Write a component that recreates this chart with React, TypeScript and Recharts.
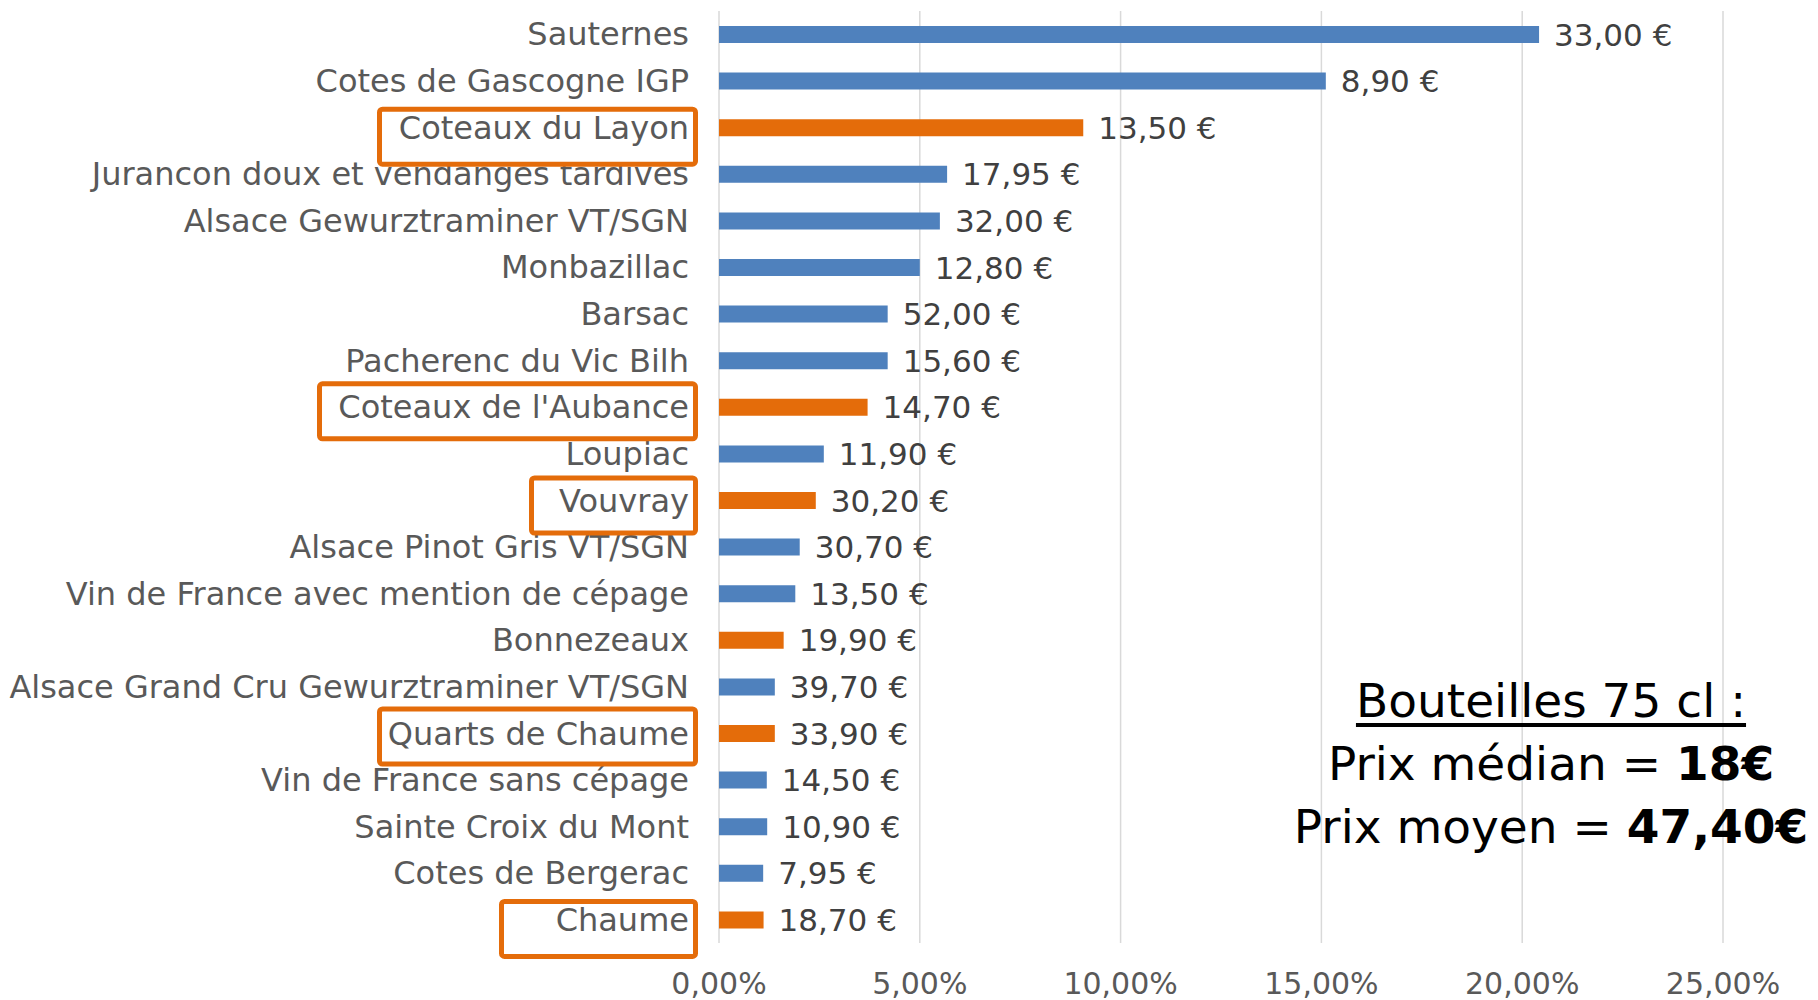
import React from 'react';
import { BarChart, Bar, XAxis, YAxis, CartesianGrid, Cell, LabelList } from 'recharts';

const categories = [
  'Sauternes',
  'Cotes de Gascogne IGP',
  'Coteaux du Layon',
  'Jurancon doux et vendanges tardives',
  'Alsace Gewurztraminer VT/SGN',
  'Monbazillac',
  'Barsac',
  'Pacherenc du Vic Bilh',
  "Coteaux de l'Aubance",
  'Loupiac',
  'Vouvray',
  'Alsace Pinot Gris VT/SGN',
  'Vin de France avec mention de cépage',
  'Bonnezeaux',
  'Alsace Grand Cru Gewurztraminer VT/SGN',
  'Quarts de Chaume',
  'Vin de France sans cépage',
  'Sainte Croix du Mont',
  'Cotes de Bergerac',
  'Chaume',
];

const shares = [
  0.2042, 0.1511, 0.0907, 0.0568, 0.055, 0.05, 0.042, 0.042, 0.037, 0.0261,
  0.0241, 0.0201, 0.019, 0.0161, 0.0139, 0.0139, 0.0119, 0.012, 0.011, 0.0111,
];

const priceLabels = [
  '33,00 €', '8,90 €', '13,50 €', '17,95 €', '32,00 €', '12,80 €', '52,00 €',
  '15,60 €', '14,70 €', '11,90 €', '30,20 €', '30,70 €', '13,50 €', '19,90 €',
  '39,70 €', '33,90 €', '14,50 €', '10,90 €', '7,95 €', '18,70 €',
];

const orangeCategories = [
  'Coteaux du Layon',
  "Coteaux de l'Aubance",
  'Vouvray',
  'Bonnezeaux',
  'Quarts de Chaume',
  'Chaume',
];

const boxedCategories = [
  'Coteaux du Layon',
  "Coteaux de l'Aubance",
  'Vouvray',
  'Quarts de Chaume',
  'Chaume',
];

const xTicks = [0, 0.05, 0.1, 0.15, 0.2, 0.25];

// ---- styles ----
const BLUE = '#4F81BD';
const ORANGE = '#E46C0A';
const FONT = '"DejaVu Sans", sans-serif';
const CAT_FONT_SIZE = 32;
const LABEL_COLOR = '#595959';
const VALUE_COLOR = '#404040';

// highlight frame geometry (style only), relative to the row centre
const BOX_STYLE: Record<string, { width: number; dy: number }> = {
  'Coteaux du Layon': { width: 321, dy: -21 },
  "Coteaux de l'Aubance": { width: 381, dy: -26 },
  Vouvray: { width: 169, dy: -25 },
  'Quarts de Chaume': { width: 321, dy: -27 },
  Chaume: { width: 199, dy: -21 },
};
const BOX_HEIGHT = 60;
const BOX_STROKE = 5;

const data = categories.map((name, i) => ({
  name,
  share: shares[i],
  price: priceLabels[i],
}));

const fmtPct = (v: number) => (v * 100).toFixed(2).replace('.', ',') + '%';

const YTick = (props: any) => {
  const { x, y, payload } = props;
  if (boxedCategories.includes(payload.value)) return <g />;
  return (
    <text
      x={x - 30}
      y={y + 11}
      textAnchor="end"
      fontFamily={FONT}
      fontSize={CAT_FONT_SIZE}
      fill={LABEL_COLOR}
    >
      {payload.value}
    </text>
  );
};

const XTick = (props: any) => {
  const { x, y, payload } = props;
  return (
    <text
      x={x}
      y={y + 51}
      textAnchor="middle"
      fontFamily={FONT}
      fontSize={30}
      fill={LABEL_COLOR}
    >
      {fmtPct(payload.value)}
    </text>
  );
};

const PriceLabel = (props: any) => {
  const { x, y, width, height, value } = props;
  return (
    <text
      x={Number(x) + Number(width) + 15}
      y={Number(y) + Number(height) / 2 + 11}
      textAnchor="start"
      fontFamily={FONT}
      fontSize={31}
      fill={VALUE_COLOR}
    >
      {value}
    </text>
  );
};

const BoxLabel = (props: any) => {
  const { x, y, height, value } = props;
  const style = BOX_STYLE[value as string];
  if (!style) return null;
  const cy = Number(y) + Number(height) / 2;
  const right = Number(x) - 21;
  return (
    <g>
      <rect
        x={right - style.width + BOX_STROKE / 2}
        y={cy + style.dy + BOX_STROKE / 2}
        width={style.width - BOX_STROKE}
        height={BOX_HEIGHT - BOX_STROKE}
        rx={3}
        ry={3}
        fill="#ffffff"
        stroke={ORANGE}
        strokeWidth={BOX_STROKE}
      />
      <text
        x={Number(x) - 30}
        y={cy + 11}
        textAnchor="end"
        fontFamily={FONT}
        fontSize={CAT_FONT_SIZE}
        fill={LABEL_COLOR}
      >
        {value}
      </text>
    </g>
  );
};

export default function App() {
  return (
    <div
      style={{
        position: 'absolute',
        left: 0,
        top: 0,
        width: 1818,
        height: 1000,
        background: '#ffffff',
        overflow: 'hidden',
      }}
    >
      <BarChart
        width={1818}
        height={1000}
        data={data}
        layout="vertical"
        margin={{ top: 11, right: 95, bottom: 0, left: 0 }}
      >
        <CartesianGrid horizontal={false} stroke="#d9d9d9" strokeWidth={1.5} />
        <XAxis
          type="number"
          domain={[0, 0.25]}
          ticks={xTicks}
          axisLine={false}
          tickLine={false}
          tickSize={0}
          tickMargin={0}
          height={57}
          tick={<XTick />}
          interval={0}
        />
        <YAxis
          type="category"
          dataKey="name"
          width={719}
          axisLine={false}
          tickLine={false}
          tickSize={0}
          tickMargin={0}
          interval={0}
          tick={<YTick />}
        />
        <Bar dataKey="share" barSize={17} isAnimationActive={false}>
          {data.map((d) => (
            <Cell key={d.name} fill={orangeCategories.includes(d.name) ? ORANGE : BLUE} />
          ))}
          <LabelList dataKey="price" content={<PriceLabel />} />
          <LabelList dataKey="name" content={<BoxLabel />} />
        </Bar>
      </BarChart>
      <div
        style={{
          position: 'absolute',
          left: 1251,
          top: 669,
          width: 600,
          textAlign: 'center',
          fontFamily: FONT,
          fontSize: 47,
          lineHeight: '63px',
          color: '#000000',
          whiteSpace: 'nowrap',
        }}
      >
        <div style={{ textDecoration: 'underline', textUnderlineOffset: 6 }}>Bouteilles 75 cl :</div>
        <div>
          Prix médian = <b>18€</b>
        </div>
        <div>
          Prix moyen = <b>47,40€</b>
        </div>
      </div>
    </div>
  );
}
